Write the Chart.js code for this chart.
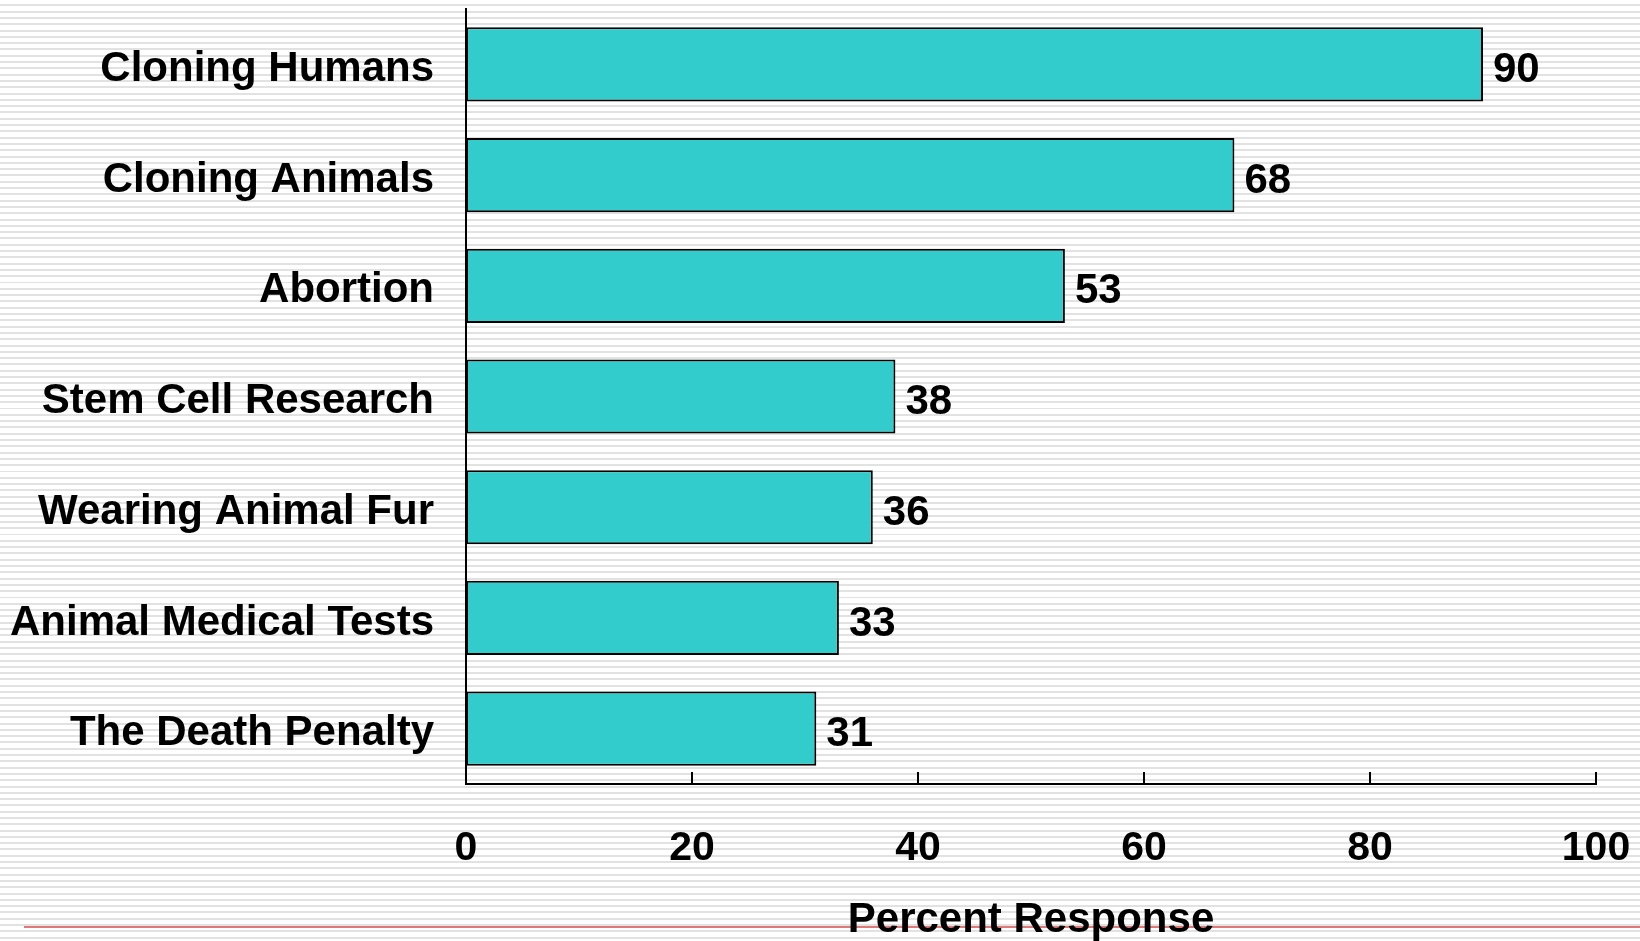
<!DOCTYPE html>
<html>
<head>
<meta charset="utf-8">
<script src="https://cdn.jsdelivr.net/npm/chart.js@4/dist/chart.umd.min.js"></script>
<style>
  html, body {
    margin: 0;
    padding: 0;
  }
  body {
    width: 1640px;
    height: 941px;
    overflow: hidden;
    position: relative;
    background: repeating-linear-gradient(to bottom, #ffffff 0px, #ffffff 4.3px, #e2e2e2 4.3px, #e2e2e2 6.3px);
  }
  #rule {
    position: absolute;
    left: 24px;
    right: 0;
    top: 926px;
    height: 2px;
    background: #e07878;
  }
  #chartWrap {
    position: absolute;
    left: 0;
    top: 0;
  }
</style>
</head>
<body>
<div id="rule"></div>
<div id="chartWrap"><canvas id="myChart" width="1640" height="941"></canvas></div>
<script>
const categories = [
  "Cloning Humans",
  "Cloning Animals",
  "Abortion",
  "Stem Cell Research",
  "Wearing Animal Fur",
  "Animal Medical Tests",
  "The Death Penalty"
]
const percentValues = [90, 68, 53, 38, 36, 33, 31]
const xTickValues = [0, 20, 40, 60, 80, 100]

const fontFamily = '"Liberation Sans", Arial, sans-serif'

// short tick marks that point up from the x axis into the plot
const innerTicks = {
  id: 'innerTicks',
  afterDraw(chart) {
    const ctx = chart.ctx
    const xScale = chart.scales.x
    const bottom = chart.chartArea.bottom
    ctx.save()
    ctx.strokeStyle = '#000'
    ctx.lineWidth = 2
    xTickValues.forEach(v => {
      if (v === xTickValues[0]) return
      const px = Math.round(xScale.getPixelForValue(v))
      ctx.beginPath()
      ctx.moveTo(px, bottom)
      ctx.lineTo(px, bottom - 12)
      ctx.stroke()
    })
    ctx.restore()
  }
}

// value printed to the right of each bar
const barValues = {
  id: 'barValues',
  afterDatasetsDraw(chart) {
    const ctx = chart.ctx
    const meta = chart.getDatasetMeta(0)
    ctx.save()
    ctx.fillStyle = '#000'
    ctx.font = 'bold 42px ' + fontFamily
    ctx.textAlign = 'left'
    ctx.textBaseline = 'middle'
    meta.data.forEach((bar, i) => {
      ctx.fillText(String(percentValues[i]), bar.x + 10, bar.y + 6)
    })
    ctx.restore()
  }
}

const data = {
  labels: categories,
  datasets: [{
    data: percentValues,
    backgroundColor: '#33CCCC',
    borderColor: '#000',
    borderWidth: 2,
    borderSkipped: false,
    categoryPercentage: 1,
    barPercentage: 0.67
  }]
}

const config = {
  type: 'bar',
  data: data,
  options: {
    indexAxis: 'y',
    responsive: false,
    animation: false,
    layout: {
      padding: { left: 10, top: 9, right: 44, bottom: 0 }
    },
    scales: {
      x: {
        min: 0,
        max: 100,
        afterFit(scale) {
          scale.height = 157
          scale.paddingLeft = 0
          scale.paddingRight = 0
        },
        afterBuildTicks(scale) {
          scale.ticks = xTickValues.map(v => ({ value: v }))
        },
        ticks: {
          color: '#000',
          padding: 40,
          maxRotation: 0,
          font: { family: fontFamily, size: 41, weight: 'bold' }
        },
        grid: { display: false, drawTicks: false },
        border: { display: true, color: '#000', width: 2 },
        title: {
          display: true,
          text: 'Percent Response',
          color: '#000',
          padding: { top: 0, bottom: 0 },
          font: { family: fontFamily, size: 42, weight: 'bold', lineHeight: 1 }
        }
      },
      y: {
        afterFit(scale) {
          scale.width = 456
          scale.paddingTop = 0
          scale.paddingBottom = 0
        },
        ticks: {
          color: '#000',
          padding: 32,
          labelOffset: 5,
          font: { family: fontFamily, size: 42, weight: 'bold' }
        },
        grid: { display: false, drawTicks: false },
        border: { display: true, color: '#000', width: 2 }
      }
    },
    plugins: {
      legend: { display: false },
      tooltip: { enabled: false }
    }
  },
  plugins: [innerTicks, barValues]
}

const myChart = new Chart(
  document.getElementById('myChart'),
  config
)
</script>
</body>
</html>
